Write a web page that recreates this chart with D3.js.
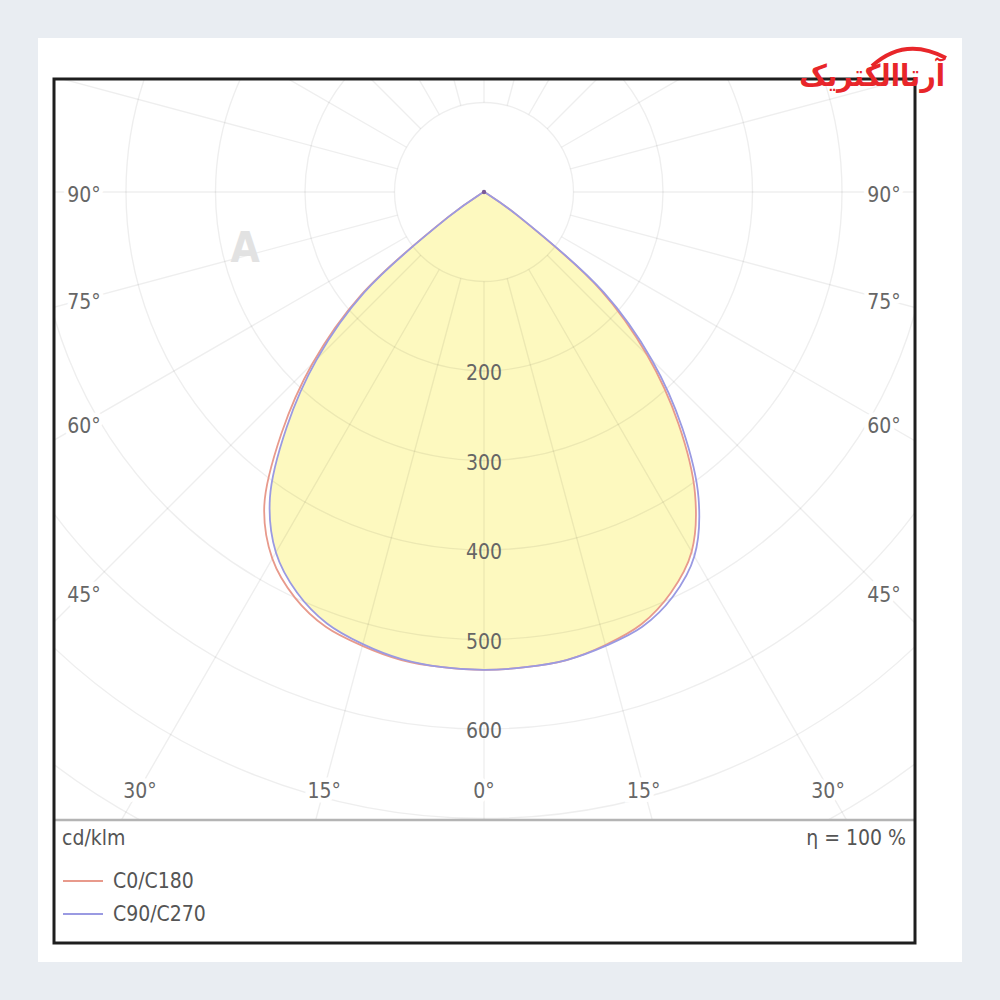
<!DOCTYPE html>
<html>
<head>
<meta charset="utf-8">
<script src="https://cdn.jsdelivr.net/npm/d3@7"></script>
<style>
  body { margin: 0; background: #e9edf2; }
  #chart { width: 1000px; height: 1000px; }
  text { font-family: "DejaVu Sans Condensed", "DejaVu Sans", sans-serif; }
</style>
</head>
<body>
<div id="chart"></div>
<script>
// gamma angles in degrees, 0 = straight down
const angles = [0, 5, 10, 15, 20, 25, 30, 35, 40, 45, 50, 55, 60, 65, 70, 75, 80, 85, 90,
  95, 100, 105, 110, 115, 120, 125, 130, 135, 140, 145, 150, 155, 160, 165, 170, 175, 180];

// luminous intensity in cd/klm (right half: C0, C90 / left half: C180, C270)
const c0 = [534, 533, 531, 524, 514, 494, 464, 411, 338, 258, 170, 45, 6, 0, 0, 0, 0, 0, 0,
  0, 0, 0, 0, 0, 0, 0, 0, 0, 0, 0, 0, 0, 0, 0, 0, 0, 0];
const c180 = [534, 533, 531, 525, 517, 500, 473, 428, 352, 271, 180, 50, 6, 0, 0, 0, 0, 0, 0,
  0, 0, 0, 0, 0, 0, 0, 0, 0, 0, 0, 0, 0, 0, 0, 0, 0, 0];
const c90 = [534, 533, 531, 525, 517, 499, 470, 418, 345, 265, 175, 47, 6, 0, 0, 0, 0, 0, 0,
  0, 0, 0, 0, 0, 0, 0, 0, 0, 0, 0, 0, 0, 0, 0, 0, 0, 0];
const c270 = [534, 533, 530, 523, 513, 494, 465, 417, 343, 264, 175, 48, 6, 0, 0, 0, 0, 0, 0,
  0, 0, 0, 0, 0, 0, 0, 0, 0, 0, 0, 0, 0, 0, 0, 0, 0, 0];

const ringValues = [100, 200, 300, 400, 500, 600, 700, 800, 900, 1000];
const ringLabels = [200, 300, 400, 500, 600];
const spokeAngles = d3.range(0, 360, 15);
const angleLabels = [0, 15, 30, 45, 60, 75, 90];

const seriesNames = ["C0/C180", "C90/C270"];
const seriesColors = ["#e89a8c", "#9a9ae2"];

const width = 1000;
const height = 1000;

const box = { left: 54, top: 79, right: 915, bottom: 943, divider: 820 };
const cx = 484;
const cy = 192;

const svg = d3.select("#chart")
  .append("svg")
  .attr("width", width)
  .attr("height", height);

// white card
svg.append("rect")
  .attr("x", 38).attr("y", 38)
  .attr("width", 924).attr("height", 924)
  .attr("fill", "#ffffff");

// radius scale: cd/klm -> px
const rScale = d3.scaleLinear()
  .domain([0, 100])
  .range([0, 89.5]);

svg.append("clipPath")
  .attr("id", "plotClip")
  .append("rect")
  .attr("x", box.left + 1)
  .attr("y", box.top + 1)
  .attr("width", box.right - box.left - 2)
  .attr("height", box.divider - box.top - 1);

const plot = svg.append("g")
  .attr("clip-path", "url(#plotClip)")
  .append("g")
  .attr("transform", `translate(${cx},${cy})`);

// build a closed outline: left half from 180 down to 0, right half from 0 up to 180
function outline(left, right) {
  const pts = [];
  for (let i = angles.length - 1; i >= 0; i--) {
    pts.push({ a: Math.PI + angles[i] * Math.PI / 180, v: left[i] });
  }
  for (let i = 1; i < angles.length; i++) {
    pts.push({ a: Math.PI - angles[i] * Math.PI / 180, v: right[i] });
  }
  return pts;
}

const radial = d3.lineRadial()
  .angle(function(d) { return d.a; })
  .radius(function(d) { return rScale(d.v); })
  .curve(d3.curveCatmullRom.alpha(0.5));

// fill area (inner envelope of both planes)
const fillLeft = c180.map(function(v, i) { return Math.min(v, c270[i]); });
const fillRight = c0.map(function(v, i) { return Math.min(v, c90[i]); });

plot.append("path")
  .attr("d", radial(outline(fillLeft, fillRight)) + "Z")
  .attr("fill", "#fdf9bf");

// grid rings
plot.selectAll(".ring")
  .data(ringValues)
  .enter().append("circle")
  .attr("class", "ring")
  .attr("r", function(d) { return rScale(d); })
  .attr("fill", "none")
  .attr("stroke", "#000")
  .attr("stroke-opacity", 0.065)
  .attr("stroke-width", 1.4);

// grid spokes from the first ring outwards
plot.selectAll(".spoke")
  .data(spokeAngles)
  .enter().append("line")
  .attr("class", "spoke")
  .attr("x1", function(d) { return rScale(100) * Math.sin(d * Math.PI / 180); })
  .attr("y1", function(d) { return rScale(100) * Math.cos(d * Math.PI / 180); })
  .attr("x2", function(d) { return rScale(1200) * Math.sin(d * Math.PI / 180); })
  .attr("y2", function(d) { return rScale(1200) * Math.cos(d * Math.PI / 180); })
  .attr("stroke", "#000")
  .attr("stroke-opacity", 0.065)
  .attr("stroke-width", 1.4);

// curves
plot.append("path")
  .attr("d", radial(outline(c180, c0)))
  .attr("fill", "none")
  .attr("stroke", seriesColors[0])
  .attr("stroke-width", 1.8);

plot.append("path")
  .attr("d", radial(outline(c270, c90)))
  .attr("fill", "none")
  .attr("stroke", seriesColors[1])
  .attr("stroke-width", 1.8);

plot.append("circle")
  .attr("r", 2.2)
  .attr("fill", "#7a5a98");

// ring value labels along the 0 degree axis
plot.selectAll(".rlabel")
  .data(ringLabels)
  .enter().append("text")
  .attr("class", "rlabel")
  .attr("x", 0)
  .attr("y", function(d) { return rScale(d) + 2; })
  .attr("text-anchor", "middle")
  .attr("dominant-baseline", "central")
  .attr("font-size", 21)
  .attr("fill", "#666")
  .text(function(d) { return d; });

// angle labels at the edge of the plot area
const inset = { side: 400, bottom: 596 };
const angleLabelPos = [];
angleLabels.forEach(function(a) {
  const rad = a * Math.PI / 180;
  const s = Math.sin(rad), c = Math.cos(rad);
  const t = Math.min(s > 0 ? inset.side / s : Infinity, c > 0 ? inset.bottom / c : Infinity);
  angleLabelPos.push({ a: a, x: t * s, y: t * c });
  if (a !== 0) angleLabelPos.push({ a: a, x: -t * s, y: t * c });
});

plot.selectAll(".alabel")
  .data(angleLabelPos)
  .enter().append("text")
  .attr("class", "alabel")
  .attr("x", function(d) { return d.x; })
  .attr("y", function(d) { return d.y + 3; })
  .attr("text-anchor", "middle")
  .attr("dominant-baseline", "central")
  .attr("font-size", 21)
  .attr("fill", "#666")
  .attr("stroke", "#fff")
  .attr("stroke-width", 9)
  .attr("paint-order", "stroke")
  .text(function(d) { return d.a + "°"; });

// faint watermark
svg.append("text")
  .attr("x", 245)
  .attr("y", 262)
  .attr("text-anchor", "middle")
  .attr("font-size", 42)
  .attr("font-weight", "bold")
  .attr("fill", "#e2e2e2")
  .text("A");

// divider between plot and legend
svg.append("line")
  .attr("x1", box.left).attr("x2", box.right)
  .attr("y1", box.divider).attr("y2", box.divider)
  .attr("stroke", "#b4b4b4")
  .attr("stroke-width", 2.5);

// frame
svg.append("rect")
  .attr("x", box.left)
  .attr("y", box.top)
  .attr("width", box.right - box.left)
  .attr("height", box.bottom - box.top)
  .attr("fill", "none")
  .attr("stroke", "#1e1e1e")
  .attr("stroke-width", 3);

// legend
svg.append("text")
  .attr("x", 62).attr("y", 838)
  .attr("dominant-baseline", "central")
  .attr("font-size", 21)
  .attr("fill", "#555")
  .text("cd/klm");

svg.append("text")
  .attr("x", 906).attr("y", 838)
  .attr("text-anchor", "end")
  .attr("dominant-baseline", "central")
  .attr("font-size", 21)
  .attr("fill", "#555")
  .text("η = 100 %");

const legend = svg.selectAll(".legend")
  .data(seriesNames)
  .enter().append("g")
  .attr("class", "legend")
  .attr("transform", function(d, i) { return `translate(63,${881 + i * 33})`; });

legend.append("line")
  .attr("x1", 0).attr("x2", 40)
  .attr("stroke", function(d, i) { return seriesColors[i]; })
  .attr("stroke-width", 1.8);

legend.append("text")
  .attr("x", 50)
  .attr("dominant-baseline", "central")
  .attr("font-size", 21)
  .attr("fill", "#555")
  .text(function(d) { return d; });

// brand logo, top right
svg.append("path")
  .attr("d", "M872,66 Q905,36 946,58")
  .attr("fill", "none")
  .attr("stroke", "#e8262a")
  .attr("stroke-width", 4);

svg.append("text")
  .attr("x", 945)
  .attr("y", 86)
  .attr("text-anchor", "end")
  .attr("font-size", 30)
  .attr("font-weight", "bold")
  .attr("fill", "#e8262a")
  .text("آرتاالکتریک");
</script>
</body>
</html>
